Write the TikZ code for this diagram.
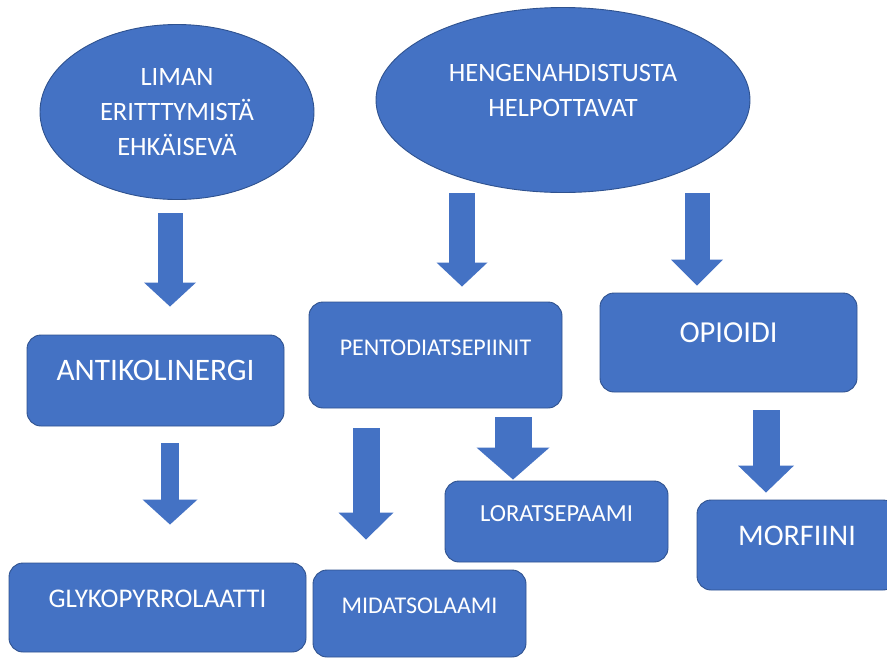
\documentclass[tikz,border=0pt]{standalone}
\usepackage{fontspec}
\setmainfont{Carlito}
\usepackage{xcolor}
\usetikzlibrary{arrows.meta,positioning,shapes.geometric}
\definecolor{boxblue}{HTML}{4472C4}
\definecolor{boxedge}{HTML}{2F528F}

\begin{document}
\begin{tikzpicture}[x=1pt, y=-1pt,
  every node/.style={text=white, inner sep=0pt},
  bluebox/.style={draw=boxedge, fill=boxblue, line width=0.9pt, rounded corners=14pt, text height=10pt, text depth=10pt},
  blueoval/.style={ellipse, draw=boxedge, fill=boxblue, line width=0.9pt, align=center},
  fatarrow/.style n args={3}{draw=boxblue, line width=#1, -{Triangle[width=#2, length=#3, line width=0pt]}}]
\useasboundingbox (0,0) rectangle (887,659);
\clip (0,0) rectangle (887,659);
\node[blueoval, minimum width=274pt, minimum height=175pt, font=\fontsize{26.5}{35}\selectfont] (liman) at (177,112) {LIMAN\\ERITTTYMISTÄ\\EHKÄISEVÄ};
\node[blueoval, minimum width=374pt, minimum height=185pt, font=\fontsize{26.5}{35}\selectfont, text height=38pt, text depth=5.4pt] (hengen) at (563,100) {HENGENAHDISTUSTA\\HELPOTTAVAT};
\node[bluebox, minimum width=257pt, minimum height=91pt, font=\fontsize{31.3}{37}\selectfont] (antiko) at (155.5,380.5) {ANTIKOLINERGI};
\node[bluebox, minimum width=253pt, minimum height=106pt, font=\fontsize{24}{29}\selectfont] (pento) at (435.5,355) {PENTODIATSEPIINIT};
\node[bluebox, minimum width=257pt, minimum height=99pt, font=\fontsize{30.5}{36}\selectfont] (opioidi) at (728.5,342.5) {OPIOIDI};
\node[bluebox, minimum width=297pt, minimum height=89pt, font=\fontsize{27}{32}\selectfont] (glyko) at (157.5,607.5) {GLYKOPYRROLAATTI};
\node[bluebox, minimum width=213pt, minimum height=87pt, font=\fontsize{24}{29}\selectfont] (midats) at (419.5,613.5) {MIDATSOLAAMI};
\node[bluebox, minimum width=223pt, minimum height=81pt, font=\fontsize{24.5}{29}\selectfont] (loratse) at (556.5,521.5) {LORATSEPAAMI};
\node[bluebox, minimum width=200pt, minimum height=90pt, font=\fontsize{30}{36}\selectfont] (morfiini) at (797,545) {MORFIINI};
\draw[fatarrow={25pt}{52pt}{24pt}, shorten <=13.5pt, shorten >=28pt] (liman.south -| 170,0) -- (antiko.north -| 170,0);
\draw[fatarrow={26pt}{51pt}{24pt}, shorten <=0.5pt, shorten >=15pt] (hengen.south -| 462,0) -- (pento.north -| 462,0);
\draw[fatarrow={25pt}{52pt}{26pt}, shorten >=7pt] (hengen.south -| 697,0) -- (opioidi.north -| 697,0);
\draw[fatarrow={18pt}{55pt}{25pt}, shorten <=17pt, shorten >=38pt] (antiko.south -| 170,0) -- (glyko.north -| 170,0);
\draw[fatarrow={27pt}{55pt}{27pt}, shorten <=20pt, shorten >=30pt] (pento.south -| 366,0) -- (midats.north -| 366,0);
\draw[fatarrow={37pt}{73pt}{32pt}, shorten <=9pt, shorten >=1pt] (pento.south -| 513,0) -- (loratse.north -| 513,0);
\draw[fatarrow={27pt}{56pt}{27pt}, shorten <=18pt, shorten >=7pt] (opioidi.south -| 766,0) -- (morfiini.north -| 766,0);
\end{tikzpicture}
\end{document}
